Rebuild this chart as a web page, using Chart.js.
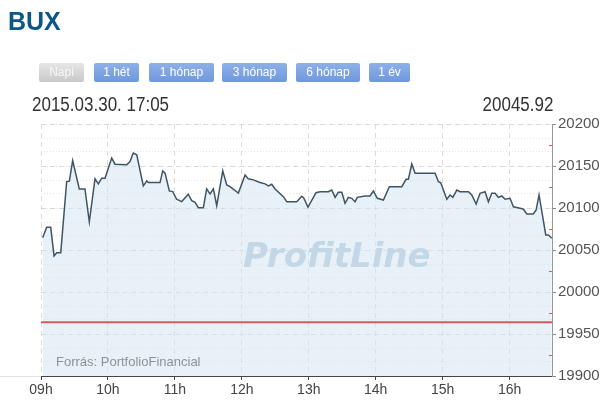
<!DOCTYPE html>
<html>
<head>
<meta charset="utf-8">
<script src="https://cdn.jsdelivr.net/npm/chart.js@4.4.1/dist/chart.umd.min.js"></script>
<style>
  body { margin: 0; background: #fff; font-family: "Liberation Sans", Arial, sans-serif; }
  #wrap { position: relative; width: 610px; height: 416px; overflow: hidden; }
  #myChart { position: absolute; left: 0; top: 0; }
  .abs { position: absolute; white-space: nowrap; line-height: 1; }
  #title { left: 8px; top: 9px; font-size: 25px; font-weight: bold; color: #0c5688; }
  .btn { position: absolute; top: 63px; height: 19px; line-height: 19px; font-size: 12px; color: #fff;
         text-align: center; border-radius: 2px; background: linear-gradient(#8db0e8, #6f98dd); }
  .btn.off { background: linear-gradient(#e6e6e6, #c9c9c9); color: #f7f7f7; }
  #stamp { left: 32px; top: 94px; font-size: 20px; color: #333; transform: scaleX(0.85); transform-origin: left; }
  #last { right: 57px; top: 94px; font-size: 20px; color: #333; transform: scaleX(0.85); transform-origin: right; }
  #mark { left: 243px; top: 238px; font-family: "DejaVu Sans", sans-serif; font-size: 34px; font-weight: bold;
          font-style: italic; color: #c3d7e6; }
  #source { left: 56px; top: 355px; font-size: 13px; color: #8c9299; }
</style>
</head>
<body>
<div id="wrap">
  <canvas id="myChart" width="610" height="416"></canvas>
  <div id="title" class="abs">BUX</div>
  <div class="btn off" style="left:39px;width:45px">Napi</div>
  <div class="btn" style="left:94px;width:45px">1 hét</div>
  <div class="btn" style="left:149px;width:65px">1 hónap</div>
  <div class="btn" style="left:222px;width:65px">3 hónap</div>
  <div class="btn" style="left:296px;width:64px">6 hónap</div>
  <div class="btn" style="left:369px;width:41px">1 év</div>
  <div id="stamp" class="abs">2015.03.30. 17:05</div>
  <div id="last" class="abs">20045.92</div>
  <div id="mark" class="abs">ProfitLine</div>
  <div id="source" class="abs">Forrás: PortfolioFinancial</div>
</div>
<script>
// minutes after 09:00
const times = [1.5, 5.1, 8.7, 11.7, 14.1, 17.7, 23, 25.4, 28.4, 34.3, 39.4, 43.3, 48.4, 51.4, 54.4, 57.4,
  60.3, 63.4, 66.3, 76.8, 79.8, 82.7, 85.8, 91.7, 94.8, 96.2, 106.7, 109.1, 111.2, 115, 118.1, 121.6,
  126.1, 132, 135.1, 138.1, 141, 145.5, 148.5, 151.5, 154.5, 157.5, 162.9, 166.5, 169.4, 176.9, 182.9,
  185.8, 190.3, 196.3, 200.8, 203.8, 206.8, 209.8, 217.2, 220.3, 229.2, 233.7, 235.5, 239.3, 246.5,
  250.1, 257.6, 260.6, 263.6, 266.5, 269.6, 272.5, 275.5, 278.5, 281.5, 283.5, 290.4, 294.9, 297.9,
  301.5, 306.9, 312.2, 323.4, 327.2, 329.3, 332.3, 335.3, 353.2, 356.2, 358.3, 363.7, 366.7, 369.1,
  372.7, 375.6, 383.1, 386.1, 390, 393.5, 398, 401, 404, 407, 409.9, 413, 416, 420.4, 423.4, 429.4,
  432.4, 435.4, 441.3, 443.8, 446.4, 452.4, 454.8, 457.8];
const values = [20064.5, 20077, 20077, 20043, 20046.6, 20046.6, 20131.4, 20132, 20156.5, 20122.7, 20122.7,
  20083.6, 20134.7, 20128.7, 20135.5, 20135.5, 20147.4, 20159.4, 20152.2, 20151.4, 20155.4, 20165.4,
  20163.3, 20126.3, 20132.3, 20130.3, 20130.3, 20144.2, 20141.5, 20120.3, 20119.5, 20110.4, 20107.6,
  20116.4, 20108.8, 20106.8, 20100.4, 20100.4, 20122.7, 20116.7, 20122.7, 20102.8, 20144.2, 20127.5,
  20125.5, 20117.7, 20139.4, 20134.7, 20133.5, 20130.3, 20128.7, 20126.3, 20128.3, 20122.7, 20113.5,
  20107.5, 20107.5, 20114, 20112, 20101, 20118.2, 20119.4, 20119.4, 20121.4, 20112.7, 20118.7, 20118.7,
  20105.6, 20112.7, 20111.5, 20107.5, 20112.7, 20114.3, 20114.3, 20120.2, 20111.5, 20109.5, 20125.4,
  20125.4, 20134.2, 20134.2, 20152.4, 20141.3, 20141.3, 20131.3, 20130.1, 20110.4, 20115.5, 20112.7,
  20121.4, 20119.4, 20119.4, 20115.5, 20104.8, 20117.5, 20119.4, 20107.5, 20117.5, 20117.5, 20112.7,
  20114.3, 20110.4, 20111.5, 20101.5, 20099.6, 20098.5, 20092.9, 20092.9, 20097.6, 20115.5, 20067.9,
  20067.9, 20064];
const prevClose = 19964;
const xMin = 0, xMax = 458;
const yMin = 19900, yMax = 20200;
const hourLabels = ['09h', '10h', '11h', '12h', '13h', '14h', '15h', '16h'];

const points = times.map((t, i) => ({ x: t, y: values[i] }));

// red inner ticks on the value axis and faint axis extension to the left
const extras = {
  id: 'extras',
  afterDraw(chart) {
    const { ctx, chartArea, scales } = chart;
    ctx.save();
    ctx.strokeStyle = '#d9595c';
    ctx.lineWidth = 1;
    for (let v = yMin + 25; v < yMax; v += 50) {
      const y = Math.round(scales.y.getPixelForValue(v)) + 0.5;
      ctx.beginPath();
      ctx.moveTo(chartArea.right - 3, y);
      ctx.lineTo(chartArea.right, y);
      ctx.stroke();
    }
    ctx.strokeStyle = '#e2e2e2';
    const yb = Math.round(chartArea.bottom) + 0.5;
    ctx.beginPath();
    ctx.moveTo(0, yb);
    ctx.lineTo(chartArea.left, yb);
    ctx.stroke();
    ctx.restore();
  }
};

const ctx = document.getElementById('myChart').getContext('2d');
const myChart = new Chart(ctx, {
  type: 'line',
  data: {
    datasets: [{
      label: 'prev',
      data: [{ x: xMin, y: prevClose }, { x: xMax, y: prevClose }],
      borderColor: '#d9595c',
      borderWidth: 2,
      pointRadius: 0,
      fill: false
    }, {
      label: 'BUX',
      data: points,
      borderColor: '#3f5565',
      borderWidth: 1.5,
      pointRadius: 0,
      tension: 0,
      fill: 'start',
      backgroundColor: 'rgba(214,229,242,0.55)'
    }]
  },
  options: {
    responsive: false,
    animation: false,
    events: [],
    layout: { padding: { left: 41, top: 124, right: 0, bottom: 0 } },
    plugins: { legend: { display: false }, tooltip: { enabled: false } },
    scales: {
      x: {
        type: 'linear',
        min: xMin,
        max: xMax,
        afterFit: s => { s.height = 40; },
        ticks: {
          stepSize: 60,
          includeBounds: false,
          autoSkip: false,
          maxRotation: 0,
          padding: 2,
          color: '#444',
          font: { family: 'Liberation Sans', size: 14 },
          callback: v => hourLabels[Math.round(v / 60)]
        },
        grid: { color: '#dcdcdc', tickColor: '#444', tickLength: 4 },
        border: { color: '#444', width: 1, dash: [5, 4] }
      },
      yMinor: {
        type: 'linear',
        position: 'right',
        min: yMin,
        max: yMax,
        afterFit: s => { s.width = 0; },
        ticks: { display: false, stepSize: 50 / 3, includeBounds: false },
        grid: { color: '#e6e6e6', drawTicks: false },
        border: { display: false, dash: [1, 2] }
      },
      y: {
        type: 'linear',
        position: 'right',
        min: yMin,
        max: yMax,
        afterFit: s => { s.width = 58; },
        ticks: {
          stepSize: 50,
          padding: 2,
          color: '#555',
          font: { family: 'Liberation Sans', size: 15 },
          callback: v => String(v)
        },
        grid: { color: '#d8d8d8', tickColor: '#888', tickLength: 4 },
        border: { color: '#999', width: 1, dash: [5, 4] }
      }
    }
  },
  plugins: [extras]
});
</script>
</body>
</html>
